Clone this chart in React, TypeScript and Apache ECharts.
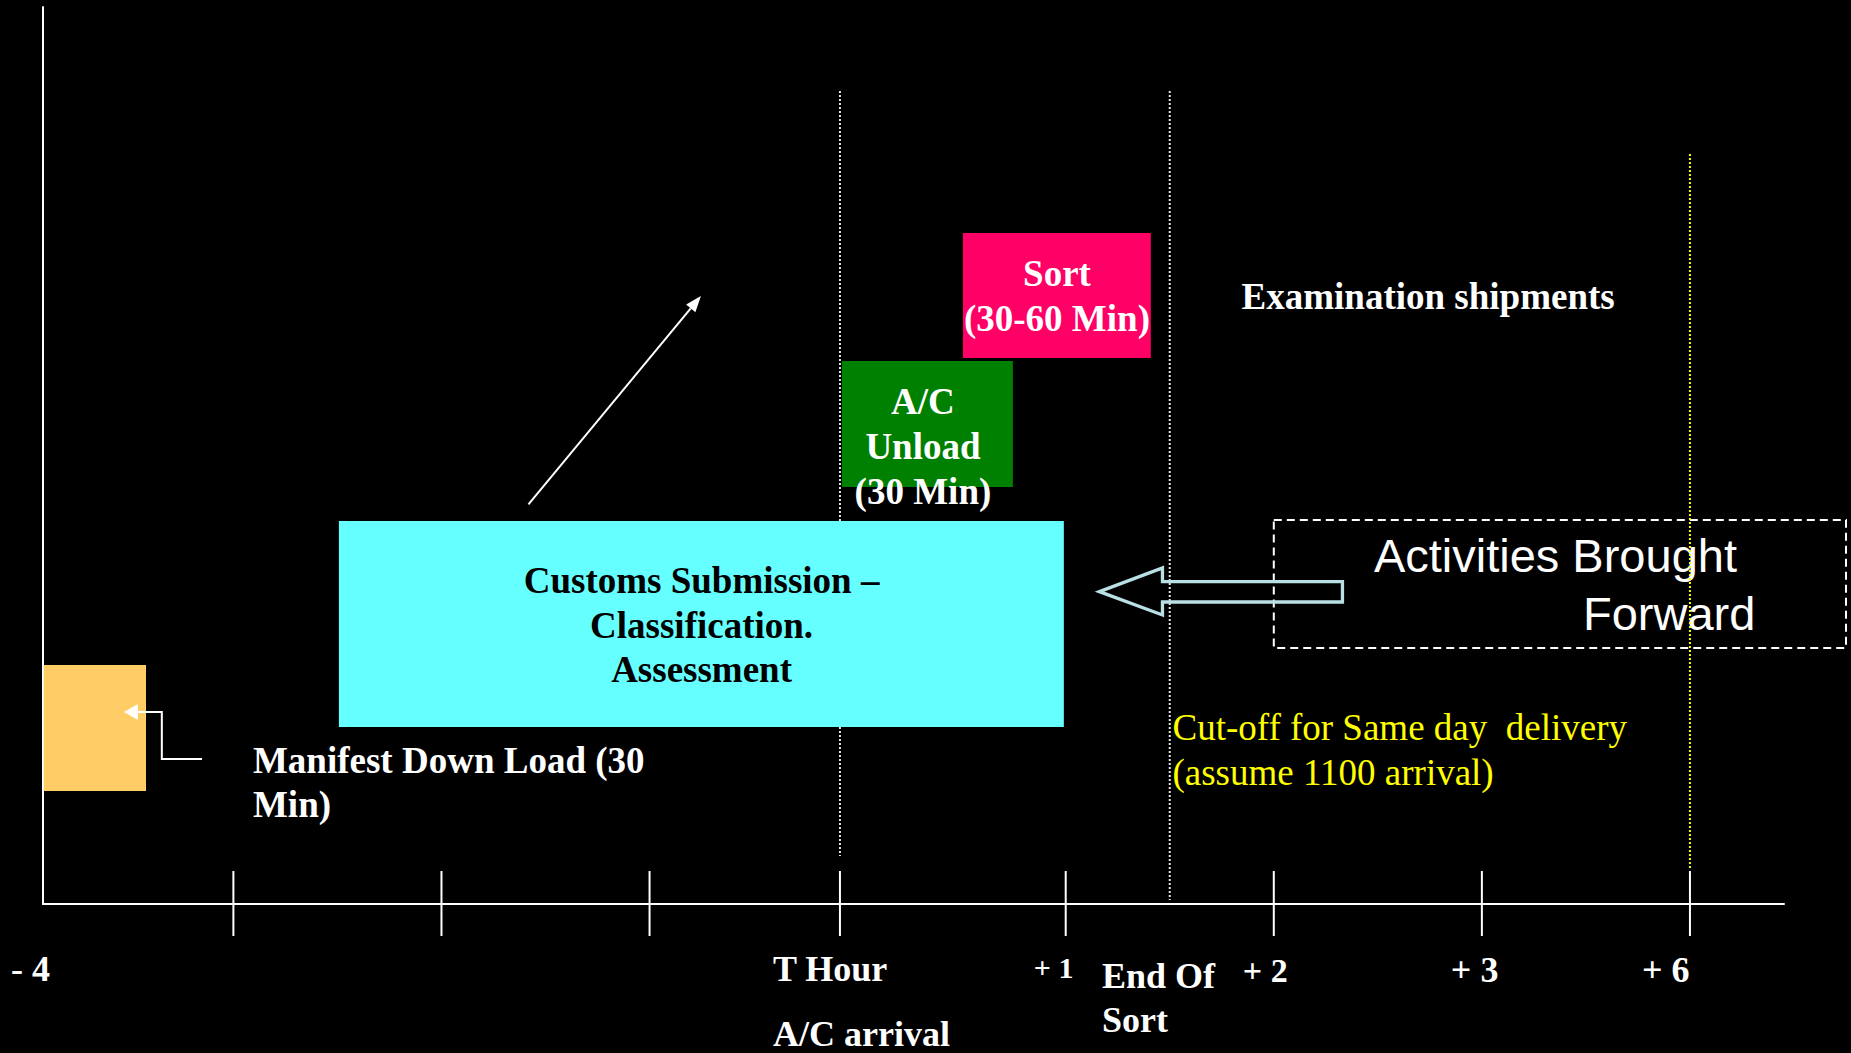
import React, { useEffect, useRef } from "react";
import * as echarts from "echarts";

// ---- Data (x in hour slots relative to the sort schedule, y in layout rows 0..100) ----
const X_MIN = -3.915;
const X_MAX = 4.452;
const TICK_HOURS = [-3, -2, -1, -0.085, 1, 2, 3, 4];

const ACTIVITIES = ["Manifest Down Load", "Customs Submission", "A/C Unload", "Sort"];
const ACT_START = [-3.911, -2.493, -0.076, 0.506];
const ACT_END = [-3.42, 0.991, 0.746, 1.409];
const ACT_TOP = [26.64, 42.7, 60.54, 74.8];
const ACT_BOTTOM = [12.6, 19.73, 46.49, 60.87];

const MARKERS = ["T Hour", "End Of Sort", "Cut-off"];
const MARKER_X = [-0.085, 1.5, 4];
const MARKER_TOP = [90.64, 90.64, 83.6];
const MARKER_BOTTOM = [5.35, 0.45, 3.8];

const LABELS = [
  "- 4", "T Hour", "A/C arrival", "+ 1", "End Of", "Sort", "+ 2", "+ 3", "+ 6",
  "Manifest Down Load (30", "Min)", "Examination shipments",
  "Cut-off for Same day  delivery", "(assume 1100 arrival)",
  "Activities Brought", "Forward",
  "Customs Submission –", "Classification.", "Assessment",
  "A/C", "Unload", "(30 Min)", "Sort", "(30-60 Min)",
];
const LABEL_X = [
  -4.069, -0.407, -0.407, 0.847, 1.174, 1.174, 1.851, 2.851, 3.769,
  -2.906, -2.906, 1.845,
  1.513, 1.513,
  2.481, 3.486,
  -0.75, -0.75, -0.75,
  0.314, 0.314, 0.314, 0.958, 0.958,
];
const LABEL_Y = [
  -7.25, -7.25, -14.45, -7.1, -8.08, -12.93, -7.36, -7.36, -7.36,
  16.0, 11.04, 67.73,
  19.68, 14.66,
  38.83, 32.36,
  36.12, 31.1, 26.09,
  56.02, 51.0, 45.99, 70.29, 65.27,
];
const LABEL_KIND = [
  "tick", "tick", "tick", "tickSmall", "tick", "tick", "tickMid", "tick", "tick",
  "note", "note", "note",
  "cutoff", "cutoff",
  "sans", "sans",
  "boxDark", "boxDark", "boxDark",
  "boxLight", "boxLight", "boxLight", "boxLight", "boxLight",
];

// arrows / outlines
const DIAG_ARROW = [[-1.582, 44.56], [-0.753, 67.78]];
const MANIFEST_ARROW = [[-3.151, 16.17], [-3.344, 16.17], [-3.344, 21.4], [-3.526, 21.4]];
const BROUGHT_ARROW = [
  [1.162, 34.82], [1.465, 37.46], [1.465, 35.95], [2.33, 35.95],
  [2.33, 33.67], [1.465, 33.67], [1.465, 32.22],
];
const BROUGHT_BOX = [2.0, 4.75, 42.81, 28.54];

// ---- Styles ----
const ACT_COLORS = ["#FFCC66", "#66FFFF", "#008000", "#FF0066"];
const MARKER_COLORS = ["#e6e6e6", "#e6e6e6", "#FFFF00"];
const SERIF = "'Liberation Serif', 'Times New Roman', serif";
const SANS = "'Liberation Sans', Arial, sans-serif";
const KIND_STYLE: Record<string, any> = {
  tick: { size: 36, weight: "bold", family: SERIF, color: "#ffffff", align: "left" },
  tickSmall: { size: 30, weight: "bold", family: SERIF, color: "#ffffff", align: "left" },
  tickMid: { size: 34, weight: "bold", family: SERIF, color: "#ffffff", align: "left" },
  note: { size: 37, weight: "bold", family: SERIF, color: "#ffffff", align: "left" },
  cutoff: { size: 37, weight: "normal", family: SERIF, color: "#FFFF00", align: "left" },
  sans: { size: 47, weight: "normal", family: SANS, color: "#ffffff", align: "left" },
  boxDark: { size: 37, weight: "bold", family: SERIF, color: "#000000", align: "center" },
  boxLight: { size: 37, weight: "bold", family: SERIF, color: "#ffffff", align: "center" },
};
const TICK_UP = 3.68;
const TICK_DOWN = -3.57;

function arrowHead(p0: number[], p1: number[], len: number, half: number) {
  const dx = p1[0] - p0[0];
  const dy = p1[1] - p0[1];
  const l = Math.sqrt(dx * dx + dy * dy) || 1;
  const ux = dx / l;
  const uy = dy / l;
  const bx = p1[0] - ux * len;
  const by = p1[1] - uy * len;
  return {
    base: [bx, by],
    points: [
      [p1[0], p1[1]],
      [bx - uy * half, by + ux * half],
      [bx + uy * half, by - ux * half],
    ],
  };
}

function custom(name: string, data: number[][], z: number, renderItem: any) {
  return {
    type: "custom",
    name,
    coordinateSystem: "cartesian2d",
    data,
    z,
    silent: true,
    clip: false,
    renderItem,
  };
}

export default function App() {
  const ref = useRef<HTMLDivElement>(null);

  useEffect(() => {
    if (!ref.current) return;
    const chart = echarts.init(ref.current, undefined, { renderer: "svg" });

    const markerSeries = (idx: number[], z: number) =>
      custom(
        "markers" + z,
        idx.map((i) => [MARKER_X[i], MARKER_TOP[i]]),
        z,
        (params: any, api: any) => {
          const i = idx[params.dataIndex];
          const a = api.coord([MARKER_X[i], MARKER_TOP[i]]);
          const b = api.coord([MARKER_X[i], MARKER_BOTTOM[i]]);
          return {
            type: "line",
            shape: { x1: a[0], y1: a[1], x2: b[0], y2: b[1] },
            style: { stroke: MARKER_COLORS[i], lineWidth: 2, lineDash: [2, 2] },
          };
        }
      );

    const option: any = {
      animation: false,
      backgroundColor: "#000000",
      grid: { left: 43, right: 67, top: 7, bottom: 149 },
      xAxis: {
        type: "value",
        min: X_MIN,
        max: X_MAX,
        axisLine: { show: true, onZero: false, lineStyle: { color: "#ffffff", width: 2 } },
        axisTick: { show: false },
        axisLabel: { show: false },
        splitLine: { show: false },
      },
      yAxis: {
        type: "value",
        min: 0,
        max: 100,
        axisLine: { show: true, onZero: false, lineStyle: { color: "#ffffff", width: 2 } },
        axisTick: { show: false },
        axisLabel: { show: false },
        splitLine: { show: false },
      },
      series: [
        custom("ticks", TICK_HOURS.map((x) => [x, 0]), 1, (params: any, api: any) => {
          const x = TICK_HOURS[params.dataIndex];
          const a = api.coord([x, TICK_UP]);
          const b = api.coord([x, TICK_DOWN]);
          return {
            type: "line",
            shape: { x1: a[0], y1: a[1], x2: b[0], y2: b[1] },
            style: { stroke: "#ffffff", lineWidth: 2 },
          };
        }),
        markerSeries([0, 1], 1),
        custom(
          "activities",
          ACTIVITIES.map((_, i) => [ACT_START[i], ACT_TOP[i]]),
          2,
          (params: any, api: any) => {
            const i = params.dataIndex;
            const a = api.coord([ACT_START[i], ACT_TOP[i]]);
            const b = api.coord([ACT_END[i], ACT_BOTTOM[i]]);
            return {
              type: "rect",
              shape: { x: a[0], y: a[1], width: b[0] - a[0], height: b[1] - a[1] },
              style: { fill: ACT_COLORS[i] },
            };
          }
        ),
        custom("broughtBox", [[BROUGHT_BOX[0], BROUGHT_BOX[2]]], 3, (params: any, api: any) => {
          const a = api.coord([BROUGHT_BOX[0], BROUGHT_BOX[2]]);
          const b = api.coord([BROUGHT_BOX[1], BROUGHT_BOX[3]]);
          return {
            type: "rect",
            shape: { x: a[0], y: a[1], width: b[0] - a[0], height: b[1] - a[1] },
            style: { fill: "none", stroke: "#ffffff", lineWidth: 2, lineDash: [8, 5] },
          };
        }),
        custom("broughtArrow", [BROUGHT_ARROW[0]], 3, (params: any, api: any) => {
          const pts = BROUGHT_ARROW.map((p) => api.coord(p));
          return {
            type: "polygon",
            shape: { points: pts },
            style: { fill: "none", stroke: "#B9E0E4", lineWidth: 3.3, lineJoin: "miter" },
          };
        }),
        custom("diagArrow", [DIAG_ARROW[0]], 3, (params: any, api: any) => {
          const p0 = api.coord(DIAG_ARROW[0]);
          const p1 = api.coord(DIAG_ARROW[1]);
          const h = arrowHead(p0, p1, 16, 6);
          return {
            type: "group",
            children: [
              {
                type: "line",
                shape: { x1: p0[0], y1: p0[1], x2: h.base[0], y2: h.base[1] },
                style: { stroke: "#ffffff", lineWidth: 2 },
              },
              { type: "polygon", shape: { points: h.points }, style: { fill: "#ffffff" } },
            ],
          };
        }),
        custom("manifestArrow", [MANIFEST_ARROW[0]], 3, (params: any, api: any) => {
          const pts = MANIFEST_ARROW.map((p) => api.coord(p));
          const n = pts.length;
          const h = arrowHead(pts[n - 2], pts[n - 1], 14, 8);
          const line = pts.slice(0, n - 1).concat([h.base]);
          return {
            type: "group",
            children: [
              {
                type: "polyline",
                shape: { points: line },
                style: { stroke: "#ffffff", lineWidth: 2, fill: "none" },
              },
              { type: "polygon", shape: { points: h.points }, style: { fill: "#ffffff" } },
            ],
          };
        }),
        custom(
          "labels",
          LABELS.map((_, i) => [LABEL_X[i], LABEL_Y[i]]),
          4,
          (params: any, api: any) => {
            const i = params.dataIndex;
            const st = KIND_STYLE[LABEL_KIND[i]];
            const p = api.coord([LABEL_X[i], LABEL_Y[i]]);
            return {
              type: "text",
              x: p[0],
              y: p[1],
              style: {
                text: LABELS[i],
                fill: st.color,
                fontSize: st.size,
                fontWeight: st.weight,
                fontFamily: st.family,
                align: st.align,
                verticalAlign: "middle",
              },
            };
          }
        ),
        markerSeries([2], 5),
      ],
    };

    chart.setOption(option);
    return () => chart.dispose();
  }, []);

  return (
    <div
      ref={ref}
      style={{ position: "fixed", left: 0, top: 0, width: 1851, height: 1053, background: "#000" }}
    />
  );
}
